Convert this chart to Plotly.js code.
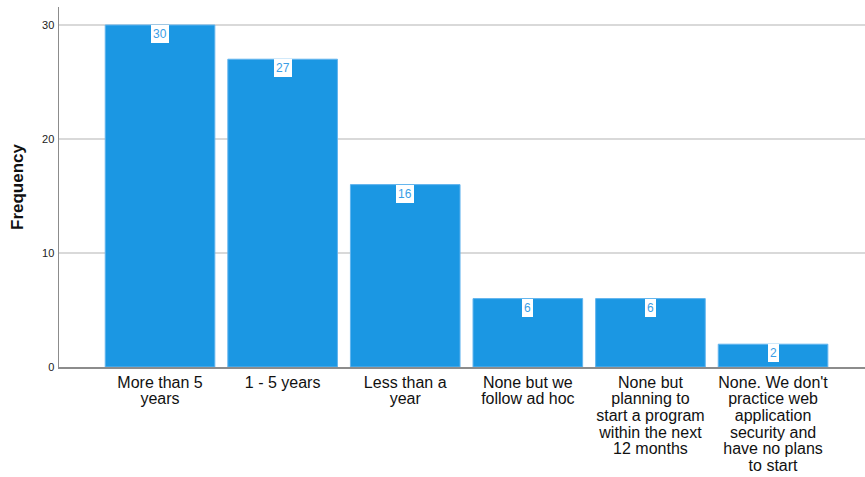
<!DOCTYPE html>
<html>
<head>
<meta charset="utf-8">
<script src="https://cdn.plot.ly/plotly-3.0.1.min.js"></script>
<style>
  html, body { margin: 0; padding: 0; background: #fff; }
  #chart { width: 865px; height: 477px; }
</style>
</head>
<body>
<div id="chart"></div>
<script>
// Years of running a web application security program
const categories = [
  "More than 5<br>years",
  "1 - 5 years",
  "Less than a<br>year",
  "None but we<br>follow ad hoc",
  "None but<br>planning to<br>start a program<br>within the next<br>12 months",
  "None. We don't<br>practice web<br>application<br>security and<br>have no plans<br>to start"
];
const frequency = [30, 27, 16, 6, 6, 2];
const yTicks = [0, 10, 20, 30];

const barColor = "#1b97e3";
const labelColor = "#3a9ee6";

const trace = {
  type: "bar",
  x: categories,
  y: frequency,
  marker: { color: barColor, line: { color: "#62b4ee", width: 1 } },
  hoverinfo: "x+y"
};

// value labels sit in white boxes just under each bar's top edge
const valueLabels = categories.map((c, i) => ({
  x: c,
  y: frequency[i],
  xref: "x",
  yref: "y",
  yanchor: "top",
  text: String(frequency[i]),
  showarrow: false,
  bgcolor: "#ffffff",
  borderpad: 2,
  borderwidth: 0,
  font: { family: "Liberation Sans, Arial, sans-serif", size: 12, color: labelColor }
}));

const layout = {
  width: 865,
  height: 477,
  margin: { l: 59, r: 0, t: 7, b: 110 },
  paper_bgcolor: "#ffffff",
  plot_bgcolor: "#ffffff",
  bargap: 0.106,
  showlegend: false,
  font: { family: "Liberation Sans, Arial, sans-serif", color: "#111" },
  xaxis: {
    type: "category",
    range: [-0.824, 5.75],
    showline: true,
    linecolor: "#8c8c8c",
    linewidth: 1.5,
    showgrid: false,
    ticks: "",
    tickfont: { size: 16, color: "#111" },
    fixedrange: true
  },
  yaxis: {
    range: [0, 31.58],
    tickvals: yTicks,
    ticktext: yTicks.map(String),
    showline: true,
    linecolor: "#8c8c8c",
    linewidth: 1.5,
    showgrid: true,
    gridcolor: "#d9d9d9",
    gridwidth: 1.5,
    zeroline: false,
    ticks: "",
    ticklabelstandoff: 1,
    tickfont: { size: 11, color: "#222" },
    title: {
      text: "<b>Frequency</b>",
      font: { size: 17, color: "#111" },
      standoff: 14
    },
    fixedrange: true
  },
  annotations: valueLabels
};

// tighten the spacing between wrapped category label lines
function tightenLines() {
  const factor = 1.04 / 1.3;
  document.querySelectorAll("#chart .xtick text tspan.line").forEach(t => {
    const dy = t.getAttribute("dy");
    if (dy && dy.endsWith("em")) {
      const v = parseFloat(dy);
      if (!t.dataset.orig) t.dataset.orig = v;
      t.setAttribute("dy", (parseFloat(t.dataset.orig) * factor) + "em");
    }
  });
}

Plotly.newPlot("chart", [trace], layout, { displayModeBar: false, staticPlot: true })
  .then(tightenLines);
</script>
</body>
</html>
